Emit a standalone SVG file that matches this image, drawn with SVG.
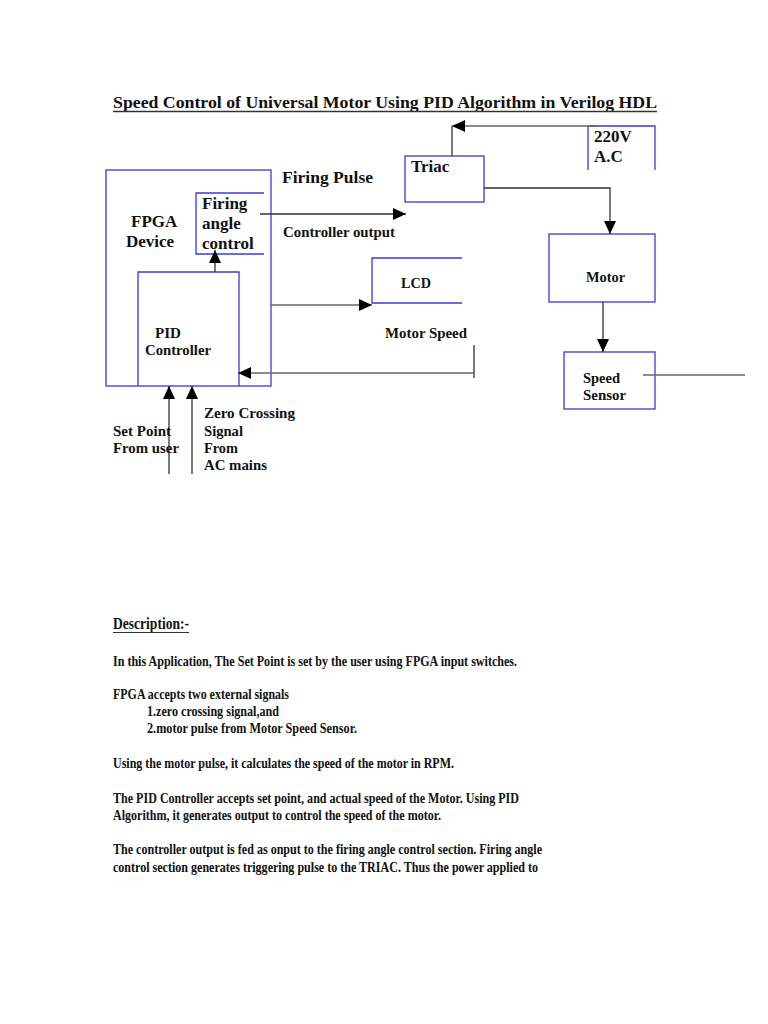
<svg xmlns="http://www.w3.org/2000/svg" width="768" height="1024" viewBox="0 0 768 1024">
<style>
text{font-family:"Liberation Serif","Times New Roman",serif;font-weight:bold;fill:#111}
.box{fill:none;stroke:#3b3bd0;stroke-width:1.3}
.ln{fill:none;stroke:#333;stroke-width:1.3}
.gl{fill:none;stroke:#666;stroke-width:1.6}
.t17{font-size:17px}
.t14{font-size:15px}
.body{font-size:14px}
</style>
<defs>
<marker id="ah" viewBox="0 0 13 12" refX="13" refY="6" markerWidth="13" markerHeight="12" markerUnits="userSpaceOnUse" orient="auto">
<path d="M0,0 L13,6 L0,12 z" fill="#000"/>
</marker>
</defs>
<rect width="768" height="1024" fill="#fff"/>

<g id="title">
<text x="113" y="108" class="t17" textLength="544" lengthAdjust="spacingAndGlyphs">Speed Control of Universal Motor Using PID Algorithm in Verilog HDL</text>
<line x1="113" y1="111.5" x2="657" y2="111.5" stroke="#333" stroke-width="1.3"/>
</g>

<g id="fpga">
<rect class="box" x="106" y="170" width="165" height="216"/>
<text x="131" y="227" class="t17">FPGA</text>
<text x="126" y="247" class="t17">Device</text>
</g>

<g id="firing-angle-control">
<path class="box" d="M264,193 H196 V254 H264"/>
<text x="202" y="209" class="t17">Firing</text>
<text x="202" y="229" class="t17">angle</text>
<text x="202" y="249" class="t17">control</text>
</g>

<g id="pid-controller">
<path class="box" d="M138,386 V272 H239 V386"/>
<text x="155" y="338" class="t14" textLength="26" lengthAdjust="spacingAndGlyphs">PID</text>
<text x="145" y="355" class="t14" textLength="66" lengthAdjust="spacingAndGlyphs">Controller</text>
</g>

<g id="triac">
<rect class="box" x="405" y="156" width="79" height="46"/>
<text x="411" y="172" class="t17">Triac</text>
</g>

<g id="ac-220v">
<path class="box" d="M588,170 V126 H655 V170"/>
<text x="594" y="142" class="t17">220V</text>
<text x="594" y="162" class="t17">A.C</text>
</g>

<g id="lcd">
<path class="box" d="M462,258 H372 V303 H462"/>
<text x="401" y="288" class="t14" textLength="30" lengthAdjust="spacingAndGlyphs">LCD</text>
</g>

<g id="motor">
<rect class="box" x="549" y="234" width="106" height="68"/>
<text x="586" y="282" class="t14" textLength="39" lengthAdjust="spacingAndGlyphs">Motor</text>
</g>

<g id="speed-sensor">
<rect class="box" x="564" y="352" width="91" height="57"/>
<text x="583" y="383" class="t14" textLength="37" lengthAdjust="spacingAndGlyphs">Speed</text>
<text x="583" y="400" class="t14" textLength="43" lengthAdjust="spacingAndGlyphs">Sensor</text>
</g>

<g id="connectors">
<line class="gl" x1="598" y1="126" x2="452" y2="126" marker-end="url(#ah)"/>
<line class="ln" x1="452" y1="156" x2="452" y2="126"/>
<polyline class="ln" points="484,188 610,188 610,234" marker-end="url(#ah)"/>
<line class="ln" x1="260" y1="214" x2="406" y2="214" marker-end="url(#ah)"/>
<line class="ln" x1="215" y1="272" x2="215" y2="250" marker-end="url(#ah)"/>
<line class="gl" x1="271" y1="305" x2="372" y2="305" marker-end="url(#ah)"/>
<line class="ln" x1="474" y1="345" x2="474" y2="378"/>
<line class="gl" x1="474" y1="373" x2="238" y2="373" marker-end="url(#ah)"/>
<line class="ln" x1="603" y1="302" x2="603" y2="352" marker-end="url(#ah)"/>
<line class="gl" x1="643" y1="375" x2="745" y2="375"/>
<line class="ln" x1="169" y1="474" x2="169" y2="386" marker-end="url(#ah)"/>
<line class="ln" x1="192" y1="474" x2="192" y2="386" marker-end="url(#ah)"/>
</g>

<g id="labels">
<text x="282" y="183" class="t17" textLength="91" lengthAdjust="spacingAndGlyphs">Firing Pulse</text>
<text x="283" y="237" class="t14" textLength="112" lengthAdjust="spacingAndGlyphs">Controller output</text>
<text x="385" y="338" class="t14" textLength="82" lengthAdjust="spacingAndGlyphs">Motor Speed</text>
<text x="204" y="418" class="t14" textLength="91" lengthAdjust="spacingAndGlyphs">Zero Crossing</text>
<text x="204" y="436" class="t14" textLength="39" lengthAdjust="spacingAndGlyphs">Signal</text>
<text x="204" y="453" class="t14" textLength="34" lengthAdjust="spacingAndGlyphs">From</text>
<text x="204" y="470" class="t14" textLength="63" lengthAdjust="spacingAndGlyphs">AC mains</text>
<text x="113" y="436" class="t14" textLength="58" lengthAdjust="spacingAndGlyphs">Set Point</text>
<text x="113" y="453" class="t14" textLength="66" lengthAdjust="spacingAndGlyphs">From user</text>
</g>

<g id="description">
<text x="113" y="629" class="t17" textLength="76" lengthAdjust="spacingAndGlyphs">Description:-</text>
<line x1="113" y1="632.5" x2="189" y2="632.5" stroke="#333" stroke-width="1.2"/>
<text x="113" y="666" class="body" textLength="404" lengthAdjust="spacingAndGlyphs">In this Application, The Set Point is set by the user using FPGA input switches.</text>
<text x="113" y="699" class="body" textLength="176" lengthAdjust="spacingAndGlyphs">FPGA accepts two external signals</text>
<text x="147" y="716" class="body" textLength="132" lengthAdjust="spacingAndGlyphs">1.zero crossing signal,and</text>
<text x="147" y="733" class="body" textLength="210" lengthAdjust="spacingAndGlyphs">2.motor pulse from Motor Speed Sensor.</text>
<text x="113" y="768" class="body" textLength="341" lengthAdjust="spacingAndGlyphs">Using the motor pulse, it calculates the speed of the motor in RPM.</text>
<text x="113" y="803" class="body" textLength="406" lengthAdjust="spacingAndGlyphs">The PID Controller accepts set point, and actual speed of the Motor. Using PID</text>
<text x="113" y="820" class="body" textLength="328" lengthAdjust="spacingAndGlyphs">Algorithm, it generates output to control the speed of the motor.</text>
<text x="113" y="854" class="body" textLength="429" lengthAdjust="spacingAndGlyphs">The controller output is fed as onput to the firing angle control section. Firing angle</text>
<text x="113" y="872" class="body" textLength="425" lengthAdjust="spacingAndGlyphs">control section generates triggering pulse to the TRIAC. Thus the power applied to</text>
</g>
</svg>
